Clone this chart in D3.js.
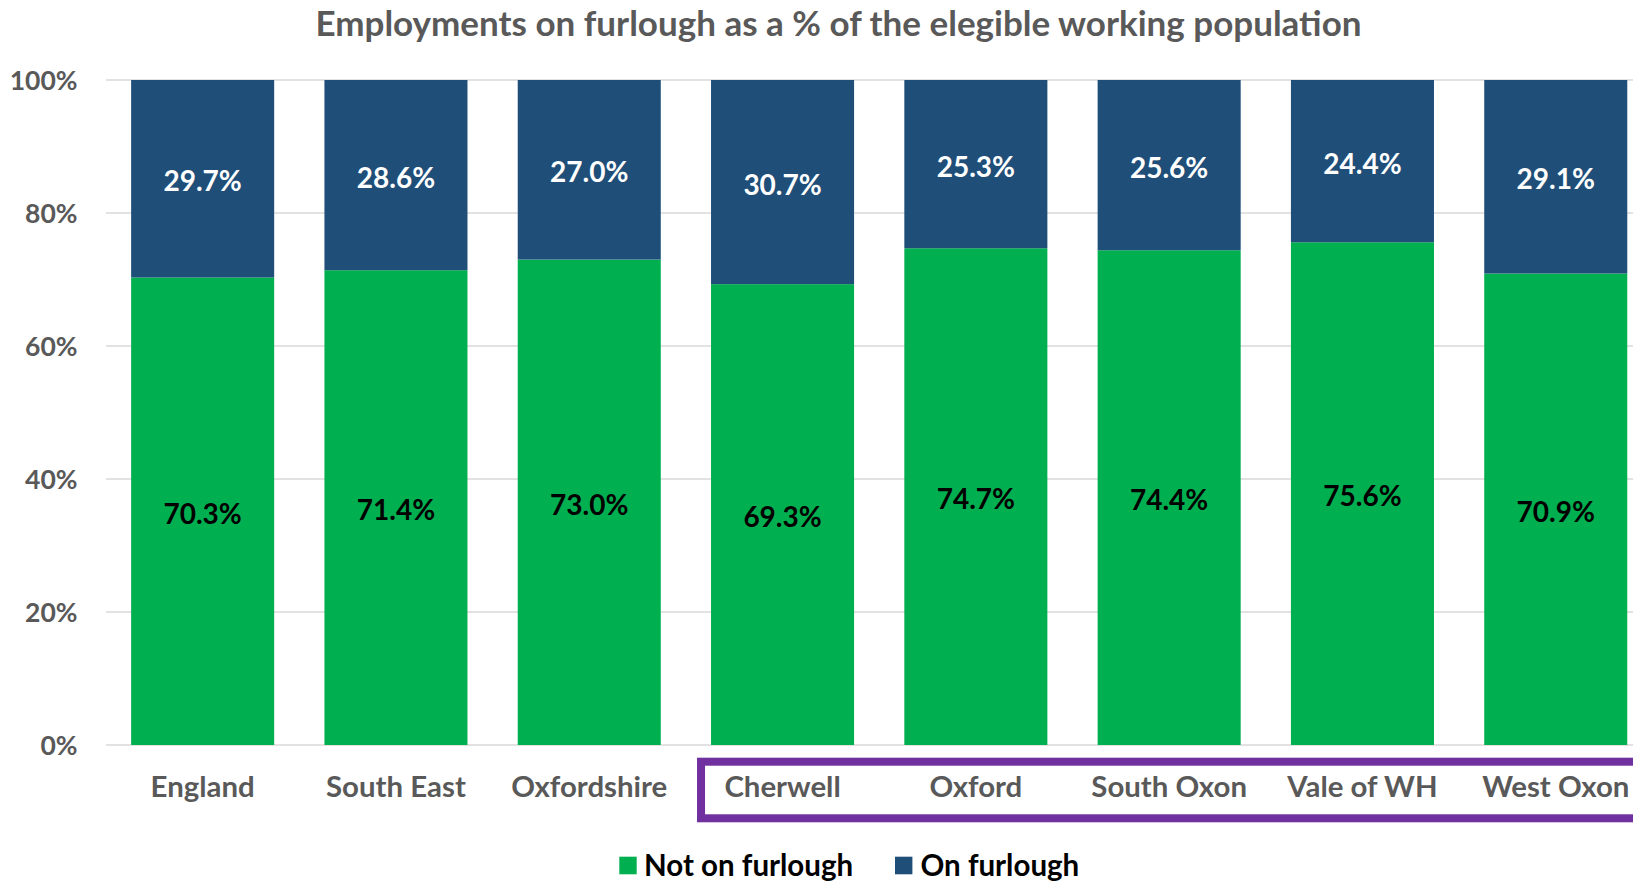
<!DOCTYPE html>
<html>
<head>
<meta charset="utf-8">
<script src="https://cdn.jsdelivr.net/npm/d3@7"></script>
<style>
  html, body { margin: 0; padding: 0; background: #fff; }
  svg { display: block; }
  text { font-family: Lato, "Open Sans", sans-serif; font-weight: 700; }
</style>
</head>
<body>
<svg id="chart" width="1633" height="882"></svg>
<script>
// ---- data ----
const categories = ["England", "South East", "Oxfordshire", "Cherwell", "Oxford", "South Oxon", "Vale of WH", "West Oxon"];
const notOnFurlough = [70.3, 71.4, 73.0, 69.3, 74.7, 74.4, 75.6, 70.9];
const onFurlough = [29.7, 28.6, 27.0, 30.7, 25.3, 25.6, 24.4, 29.1];
const seriesNames = ["Not on furlough", "On furlough"];
const yTicks = [0, 20, 40, 60, 80, 100];
const highlighted = ["Cherwell", "Oxford", "South Oxon", "Vale of WH", "West Oxon"];
const titleText = "Employments on furlough as a % of the elegible working population";

// ---- layout / style ----
const W = 1633, H = 882;
const plotLeft = 106, plotTop = 80, plotBottom = 745;
const step = 193.3;
const colors = ["#00B050", "#1F4E79"];
const labelColors = ["#000000", "#ffffff"];
const grey = "#595959";

const svg = d3.select("#chart");

const x = d3.scaleBand()
  .domain(categories)
  .range([plotLeft, plotLeft + step * categories.length])
  .paddingInner(0.26)
  .paddingOuter(0.13);

const y = d3.scaleLinear().domain([0, 100]).range([plotBottom, plotTop]);

function addText(parent, tx, ty, str, opts) {
  const t = parent.append("text")
    .attr("x", tx).attr("y", ty)
    .attr("text-anchor", opts.anchor || "middle")
    .attr("font-size", opts.size)
    .attr("fill", opts.fill)
    .text(str);
  if (opts.dy) t.attr("dy", opts.dy);
  return t;
}

// gridlines
svg.append("g").selectAll("line")
  .data(yTicks)
  .join("line")
  .attr("x1", plotLeft).attr("x2", W + 40)
  .attr("y1", d => y(d)).attr("y2", d => y(d))
  .attr("stroke", "#d9d9d9").attr("stroke-width", 1.6);

// stacked data
const rows = categories.map((c, i) => ({ cat: c, "Not on furlough": notOnFurlough[i], "On furlough": onFurlough[i] }));
const stack = d3.stack().keys(seriesNames)(rows);

const layers = svg.append("g").selectAll("g")
  .data(stack)
  .join("g")
  .attr("fill", (d, i) => colors[i]);

layers.selectAll("rect")
  .data(d => d)
  .join("rect")
  .attr("x", d => x(d.data.cat))
  .attr("width", x.bandwidth())
  .attr("y", d => y(d[1]))
  .attr("height", d => y(d[0]) - y(d[1]));

// value labels
const labelG = svg.append("g");
stack.forEach((layer, li) => {
  layer.forEach(d => {
    const v = d[1] - d[0];
    addText(labelG, x(d.data.cat) + x.bandwidth() / 2, y((d[0] + d[1]) / 2) + 2, v.toFixed(1) + "%",
      { size: 28, fill: labelColors[li], dy: "0.38em" });
  });
});

// y-axis labels
const yAx = svg.append("g");
yTicks.forEach(t => {
  addText(yAx, 77.5, y(t), t + "%", { size: 26.5, fill: grey, anchor: "end", dy: "0.36em" });
});

// category labels
const xAx = svg.append("g");
categories.forEach(c => {
  addText(xAx, x(c) + x.bandwidth() / 2, 797, c, { size: 29.4, fill: grey });
});

// highlight box around the districts
const hx0 = x(highlighted[0]) - 10;
svg.append("rect")
  .attr("x", hx0).attr("y", 761.7)
  .attr("width", W + 40 - hx0).attr("height", 56.6)
  .attr("fill", "none")
  .attr("stroke", "#7030A0").attr("stroke-width", 8);

// title
addText(svg, 838.5, 36, titleText, { size: 35, fill: grey });

// legend
const legend = svg.append("g");
const legendItems = [
  { sq: 619.3, tx: 644 },
  { sq: 895, tx: 920.5 }
];
seriesNames.forEach((s, i) => {
  legend.append("rect")
    .attr("x", legendItems[i].sq).attr("y", 856.7)
    .attr("width", 17.4).attr("height", 17.6)
    .attr("fill", colors[i]);
  addText(legend, legendItems[i].tx, 875.5, s, { size: 29.5, fill: "#000", anchor: "start" });
});
</script>
</body>
</html>
